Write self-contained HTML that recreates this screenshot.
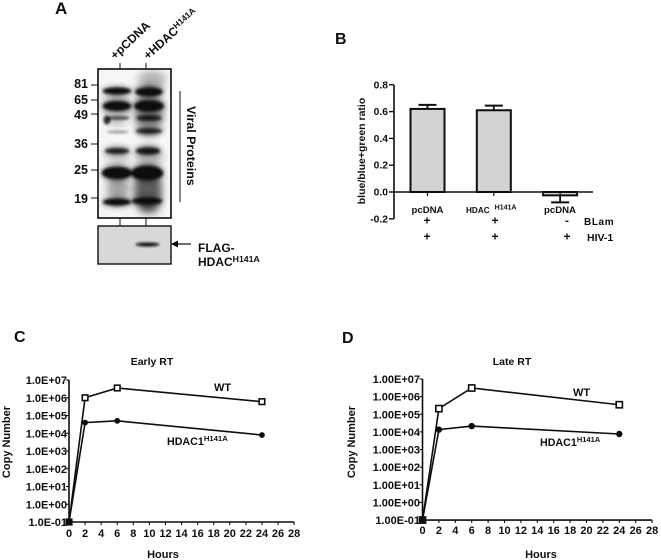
<!DOCTYPE html>
<html lang="en">
<head>
<meta charset="utf-8">
<title>Figure panels A-D</title>
<style>
html,body{margin:0;padding:0;background:#fff;width:661px;height:560px;overflow:hidden}
svg{display:block;font-family:"Liberation Sans",Arial,sans-serif;font-weight:bold;fill:#111}
</style>
</head>
<body>
<svg id="fig" width="661" height="560" viewBox="0 0 661 560" xmlns="http://www.w3.org/2000/svg">
<defs>
<filter id="b1" x="-30%" y="-150%" width="160%" height="400%"><feGaussianBlur stdDeviation="1.2"/></filter>
<filter id="b2" x="-30%" y="-150%" width="160%" height="400%"><feGaussianBlur stdDeviation="2.6"/></filter>
<filter id="b4" x="-50%" y="-50%" width="200%" height="200%"><feGaussianBlur stdDeviation="4"/></filter>
<filter id="bt" x="-5%" y="-5%" width="110%" height="110%"><feGaussianBlur stdDeviation="0.35"/></filter>
<clipPath id="blotclip"><rect x="98" y="69" width="73" height="149"/></clipPath>
</defs>
<g id="root" filter="url(#bt)">
<rect width="661" height="560" fill="#fff"/>

<!-- Panel A -->
<g>
<text x="55" y="14" font-size="17">A</text>
<text transform="translate(115,60) rotate(-43)" font-size="12">+pCDNA</text>
<text transform="translate(148,60) rotate(-42)" font-size="12">+HDAC<tspan font-size="8.5" dy="-4">H141A</tspan></text>
<g stroke="#111" stroke-width="1">
<line x1="120" y1="63" x2="120" y2="69"/><line x1="146" y1="63" x2="146" y2="69"/>
<line x1="120" y1="218" x2="120" y2="226"/><line x1="146" y1="218" x2="146" y2="226"/>
</g>
<rect x="98" y="69" width="73" height="149" fill="#f6f6f6"/>
<g clip-path="url(#blotclip)">
<g filter="url(#b4)" fill="#333">
<ellipse cx="152" cy="80" rx="14" ry="9" opacity=".35"/>
<ellipse cx="149" cy="112" rx="14" ry="24" opacity=".5"/>
<ellipse cx="117" cy="108" rx="13" ry="18" opacity=".28"/>
<ellipse cx="148" cy="190" rx="14" ry="22" opacity=".8"/>
<ellipse cx="118" cy="188" rx="11" ry="14" opacity=".42"/>
<ellipse cx="149" cy="158" rx="13" ry="12" opacity=".3"/>
<ellipse cx="118" cy="158" rx="12" ry="10" opacity=".18"/>
<ellipse cx="149" cy="209" rx="11" ry="5" opacity=".45"/>
</g>
<g filter="url(#b2)" fill="#222" opacity=".6">
<ellipse cx="117" cy="91" rx="15" ry="4.5"/>
<ellipse cx="117" cy="106" rx="15" ry="6"/>
<ellipse cx="117" cy="151" rx="13" ry="4"/>
<ellipse cx="117" cy="173" rx="16" ry="8"/>
<ellipse cx="117" cy="202" rx="15" ry="5"/>
<ellipse cx="149" cy="91" rx="15" ry="6"/>
<ellipse cx="149" cy="106" rx="16" ry="7"/>
<ellipse cx="149" cy="118" rx="14" ry="4"/>
<ellipse cx="149" cy="131" rx="14" ry="4"/>
<ellipse cx="148" cy="151" rx="13" ry="5"/>
<ellipse cx="147" cy="173" rx="17" ry="9"/>
<ellipse cx="147" cy="201" rx="16" ry="5"/>
</g>
<g filter="url(#b1)" fill="#0c0c0c">
<ellipse cx="117" cy="91" rx="14" ry="3.2"/>
<ellipse cx="117" cy="106" rx="14" ry="4.6"/>
<ellipse cx="107" cy="120" rx="3.5" ry="4.5" opacity=".85"/>
<ellipse cx="118" cy="118" rx="12" ry="1.7" opacity=".7"/>
<ellipse cx="118" cy="132" rx="11" ry="1" opacity=".5"/>
<ellipse cx="117" cy="151" rx="12" ry="2.6" opacity=".85"/>
<ellipse cx="117" cy="173" rx="15" ry="6"/>
<ellipse cx="117" cy="202" rx="14" ry="3.2"/>
<ellipse cx="149" cy="92" rx="13.5" ry="4.2"/>
<ellipse cx="149" cy="106" rx="14.5" ry="5.5"/>
<ellipse cx="149" cy="118" rx="12" ry="2.6" opacity=".85"/>
<ellipse cx="149" cy="131" rx="13" ry="2.2" opacity=".85"/>
<ellipse cx="148" cy="151" rx="12" ry="3.2" opacity=".9"/>
<ellipse cx="147" cy="173" rx="16" ry="7"/>
<ellipse cx="147" cy="201" rx="15" ry="3.4"/>
</g>
</g>
<rect x="98" y="69" width="73" height="149" fill="none" stroke="#111" stroke-width="1.6"/>
<g font-size="12.5" text-anchor="end">
<text x="88" y="88">81</text><text x="88" y="104">65</text><text x="88" y="119">49</text>
<text x="88" y="148">36</text><text x="88" y="174">25</text><text x="88" y="203">19</text>
</g>
<g stroke="#111" stroke-width="1">
<line x1="91" y1="85" x2="98" y2="85"/><line x1="91" y1="100" x2="98" y2="100"/><line x1="91" y1="114" x2="98" y2="114"/>
<line x1="91" y1="144" x2="98" y2="144"/><line x1="91" y1="170" x2="98" y2="170"/><line x1="91" y1="198" x2="98" y2="198"/>
</g>
<line x1="180" y1="91" x2="180" y2="202" stroke="#111" stroke-width="1"/>
<text transform="translate(187,106) rotate(90)" font-size="12.4">Viral Proteins</text>
<rect x="98" y="226" width="73" height="38" fill="#d8d8d6" stroke="#111" stroke-width="1.4"/>
<ellipse cx="147.5" cy="244.5" rx="12" ry="2" fill="#0c0c0c" filter="url(#b1)"/>
<line x1="176" y1="244" x2="191" y2="244" stroke="#111" stroke-width="1.2"/>
<polygon points="171,244 178,240.5 178,247.5" fill="#111"/>
<text x="198" y="252" font-size="12">FLAG-</text>
<text x="198" y="266" font-size="12">HDAC<tspan font-size="8.7" dy="-4">H141A</tspan></text>
</g>

<g id="panelB">
<text x="335" y="44" font-size="16">B</text>
<text transform="translate(365,151) rotate(-90)" font-size="10.5" text-anchor="middle">blue/blue+green ratio</text>
<text x="584" y="225" font-size="10" letter-spacing=".6">BLam</text>
<text x="587" y="241" font-size="10.5">HIV-1</text>
</g>

<g id="panelC">
<text x="14" y="342" font-size="16">C</text>
<text x="152" y="365" font-size="10.5" text-anchor="middle">Early RT</text>
<text transform="translate(10,442) rotate(-90)" font-size="11" text-anchor="middle">Copy Number</text>
<text x="163" y="558" font-size="11" text-anchor="middle">Hours</text>
<text x="214" y="391" font-size="11">WT</text>
<text x="167" y="445" font-size="10.7">HDAC1<tspan font-size="7.7" dy="-4">H141A</tspan></text>
</g>

<g id="panelD">
<text x="342" y="343" font-size="16">D</text>
<text x="512" y="365" font-size="10.5" text-anchor="middle">Late RT</text>
<text transform="translate(355,442) rotate(-90)" font-size="11" text-anchor="middle">Copy Number</text>
<text x="541" y="558" font-size="11" text-anchor="middle">Hours</text>
<text x="573" y="396" font-size="11">WT</text>
<text x="540" y="446" font-size="10.7">HDAC1<tspan font-size="7.5" dy="-4">H141A</tspan></text>
</g>
</g>
</svg>
<script>
var barCategories = ['pcDNA', 'HDAC', 'pcDNA'];
var barValues = [0.62, 0.61, -0.025];
var barErrors = [0.03, 0.035, 0.052];
var barTicks = [0.8, 0.6, 0.4, 0.2, 0.0, -0.2];
var blamRow = ['+', '+', '-'];
var hivRow = ['+', '+', '+'];

var hourTicks = [0, 2, 4, 6, 8, 10, 12, 14, 16, 18, 20, 22, 24, 26, 28];
var hours = [0, 2, 6, 24];
var logTicks = [7, 6, 5, 4, 3, 2, 1, 0, -1];
var earlyTickLabels = ['1.0E+07', '1.0E+06', '1.0E+05', '1.0E+04', '1.0E+03', '1.0E+02', '1.0E+01', '1.0E+00', '1.0E-01'];
var lateTickLabels = ['1.00E+07', '1.00E+06', '1.00E+05', '1.00E+04', '1.00E+03', '1.00E+02', '1.00E+01', '1.00E+00', '1.00E-01'];
var earlyWT = [-1, 6.0, 6.55, 5.78];
var earlyHDAC = [-1, 4.6, 4.7, 3.9];
var lateWT = [-1, 5.32, 6.49, 5.54];
var lateHDAC = [-1, 4.13, 4.33, 3.88];

var NS = 'http://www.w3.org/2000/svg';
function mk(parent, tag, attrs, txt) {
  var e = document.createElementNS(NS, tag);
  for (var k in attrs) { e.setAttribute(k, attrs[k]); }
  if (txt !== undefined) { e.textContent = txt; }
  parent.appendChild(e);
  return e;
}

/* Panel B */
(function () {
  var g = document.getElementById('panelB');
  function y(v) { return 192 - v * 134; }
  function cx(i) { return 427.5 + i * 66.3; }
  var el;
  var bw = 34;
  barValues.forEach(function (v, i) {
    var x = cx(i);
    var errEnd = v >= 0 ? v + barErrors[i] : v - barErrors[i];
    el = mk(g, 'line', {x1: x, x2: x, y1: y(v), y2: y(errEnd), stroke: '#111', 'stroke-width': 1.8});
    
    
    el = mk(g, 'line', {x1: x - 9, x2: x + 9, y1: y(errEnd), y2: y(errEnd), stroke: '#111', 'stroke-width': 2});
    
    
    el = mk(g, 'rect', {x: x - bw / 2, y: Math.min(y(v), y(0)), width: bw, height: Math.abs(y(v) - y(0)), fill: '#d3d3d3', stroke: '#111', 'stroke-width': 2});
    
    
    el = mk(g, 'line', {x1: x, x2: x, y1: y(0), y2: y(0) + 4, stroke: '#111', 'stroke-width': 1.2});
    
    
    if (i === 1) {
      el = mk(g, 'text', {x: 466, y: 213, 'font-size': 8.2}, barCategories[i]);
      mk(el, 'tspan', {'font-size': 7, dy: -3.5, dx: 5}, 'H141A');
    } else {
      el = mk(g, 'text', {x: i === 0 ? 427.5 : 560, y: 213, 'font-size': 9.6, 'text-anchor': 'middle'}, barCategories[i]);
    }
    
    
    var sx = [427, 495, 567][i];
    el = mk(g, 'text', {x: sx, y: 224.5, 'font-size': 12, 'text-anchor': 'middle'}, blamRow[i]);
    
    
    el = mk(g, 'text', {x: sx, y: 240.5, 'font-size': 12, 'text-anchor': 'middle'}, hivRow[i]);
    
    
  });
  el = mk(g, 'line', {x1: 394, x2: 394, y1: y(0.8), y2: y(-0.2), stroke: '#111', 'stroke-width': 1.6});
  
  
  el = mk(g, 'line', {x1: 394, x2: 593, y1: y(0), y2: y(0), stroke: '#111', 'stroke-width': 1.6});
  
  
  barTicks.forEach(function (t) {
    el = mk(g, 'line', {x1: 389, x2: 394, y1: y(t), y2: y(t), stroke: '#111', 'stroke-width': 1.4});
    
    
    el = mk(g, 'text', {x: 388, y: y(t) + 3.5, 'font-size': 10.3, 'text-anchor': 'end'}, t.toFixed(1));
    
    
  });
})();

/* Panels C and D */
function lineChart(id, x0, xPerHour, yTop, yPerDecade, labels, wt, hdac, labelRight, xLabelY, markerSize, markerRadius) {
  var g = document.getElementById(id);
  function x(h) { return x0 + h * xPerHour; }
  function y(v) { return yTop + (7 - v) * yPerDecade; }
  var el;
  el = mk(g, 'line', {x1: x(0), x2: x(0), y1: y(7), y2: y(-1), stroke: '#111', 'stroke-width': 1.6});
  
  
  el = mk(g, 'line', {x1: x(0), x2: x(28), y1: y(-1), y2: y(-1), stroke: '#111', 'stroke-width': 1.6});
  
  
  logTicks.forEach(function (t, i) {
    el = mk(g, 'line', {x1: x(0) - 3, x2: x(0), y1: y(t), y2: y(t), stroke: '#111', 'stroke-width': 1.1});
    
    
    el = mk(g, 'text', {x: labelRight, y: y(t) + 4, 'font-size': 11, 'text-anchor': 'end'}, labels[i]);
    
    
  });
  hourTicks.forEach(function (h) {
    el = mk(g, 'line', {x1: x(h), x2: x(h), y1: y(-1), y2: y(-1) + 3, stroke: '#111', 'stroke-width': 1.1});
    
    
    el = mk(g, 'text', {x: x(h), y: xLabelY, 'font-size': 11, 'text-anchor': 'middle'}, String(h));
    
    
  });
  function path(vals) {
    return hours.map(function (h, i) { return x(h) + ',' + y(vals[i]); }).join(' ');
  }
  el = mk(g, 'polyline', {points: path(hdac), fill: 'none', stroke: '#111', 'stroke-width': 1.6});
  
  
  el = mk(g, 'polyline', {points: path(wt), fill: 'none', stroke: '#111', 'stroke-width': 1.6});
  
  
  hours.forEach(function (h, i) {
    var s = markerSize;
    el = mk(g, 'rect', {x: x(h) - s / 2, y: y(wt[i]) - s / 2, width: s, height: s, fill: i === 0 ? '#111' : '#fff', stroke: '#111', 'stroke-width': 1.6});
    
    
    el = mk(g, 'circle', {cx: x(h), cy: y(hdac[i]), r: markerRadius, fill: '#111'});
    
    
  });
}
lineChart('panelC', 69, 8.04, 380, 17.75, earlyTickLabels, earlyWT, earlyHDAC, 67, 537, 5.6, 2.9);
lineChart('panelD', 422.5, 8.2, 379, 17.63, lateTickLabels, lateWT, lateHDAC, 420, 534, 6.2, 3.2);
</script>
</body>
</html>
